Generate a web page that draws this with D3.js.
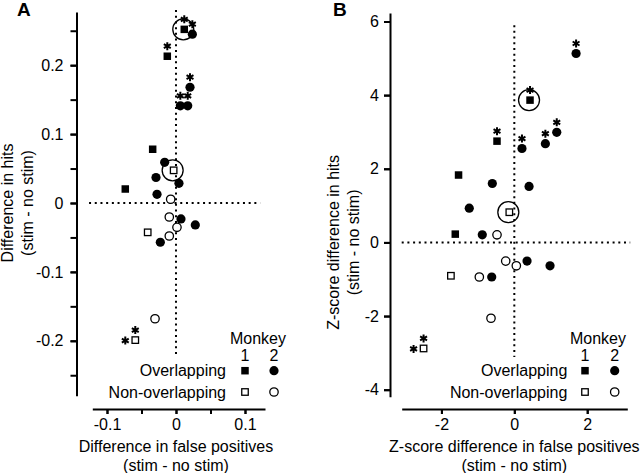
<!DOCTYPE html>
<html>
<head>
<meta charset="utf-8">
<script src="https://cdn.jsdelivr.net/npm/d3@7"></script>
<style>
    body { margin: 0; background: #fff; }
    svg text { font-family: "Liberation Sans", Arial, Helvetica, sans-serif; fill: #000; }
</style>
</head>
<body>
<div id="chart"></div>
<script>
// Stimulation effects - two scatter panels

// Panel A data: difference in false positives (x), difference in hits (y)
// stars = number of asterisks, ring = circled example site
const aOverlapM1 = [
    { x: 0.012, y: 0.252, stars: 1, ring: true },
    { x: -0.0126, y: 0.213, stars: 1 },
    { x: -0.0338, y: 0.078, stars: 0 },
    { x: -0.0735, y: 0.0203, stars: 0 }
];
const aOverlapM2 = [
    { x: 0.0237, y: 0.245, stars: 1 },
    { x: 0.0203, y: 0.168, stars: 1 },
    { x: 0.0063, y: 0.141, stars: 1 },
    { x: 0.017, y: 0.141, stars: 1 },
    { x: -0.0164, y: 0.059, stars: 0 },
    { x: -0.029, y: 0.037, stars: 0 },
    { x: 0.0043, y: 0.0286, stars: 0 },
    { x: -0.0275, y: 0.0126, stars: 0 },
    { x: 0.0072, y: -0.0232, stars: 0 },
    { x: 0.028, y: -0.0319, stars: 0 },
    { x: -0.0227, y: -0.057, stars: 0 }
];
const aNonOverlapM1 = [
    { x: -0.0034, y: 0.0474, stars: 0, ring: true },
    { x: -0.041, y: -0.0426, stars: 0 },
    { x: -0.059, y: -0.199, stars: 2 }
];
const aNonOverlapM2 = [
    { x: -0.0077, y: 0.0054, stars: 0 },
    { x: -0.0097, y: -0.0203, stars: 0 },
    { x: 0.0014, y: -0.0353, stars: 0 },
    { x: -0.0097, y: -0.0479, stars: 0 },
    { x: -0.0304, y: -0.168, stars: 0 }
];

// Panel B data: z-score difference in false positives (x), in hits (y)
const bOverlapM1 = [
    { x: 0.431, y: 3.864, stars: 1, ring: true },
    { x: -0.475, y: 2.75, stars: 1 },
    { x: -1.53, y: 1.83, stars: 0 },
    { x: -1.62, y: 0.225, stars: 0 }
];
const bOverlapM2 = [
    { x: 1.695, y: 5.13, stars: 1 },
    { x: 0.21, y: 2.55, stars: 1 },
    { x: 0.852, y: 2.68, stars: 1 },
    { x: 1.164, y: 2.99, stars: 1 },
    { x: -0.604, y: 1.60, stars: 0 },
    { x: 0.404, y: 1.52, stars: 0 },
    { x: -1.236, y: 0.93, stars: 0 },
    { x: -0.879, y: 0.206, stars: 0 },
    { x: 0.349, y: -0.508, stars: 0 },
    { x: 0.98, y: -0.635, stars: 0 },
    { x: -0.62, y: -0.94, stars: 0 }
];
const bNonOverlapM1 = [
    { x: -0.137, y: 0.82, stars: 0, ring: true },
    { x: -1.74, y: -0.906, stars: 0 },
    { x: -2.49, y: -2.88, stars: 2 }
];
const bNonOverlapM2 = [
    { x: -0.475, y: 0.206, stars: 0 },
    { x: -0.236, y: -0.508, stars: 0 },
    { x: 0.055, y: -0.635, stars: 0 },
    { x: -0.96, y: -0.94, stars: 0 },
    { x: -0.64, y: -2.06, stars: 0 }
];

// Ticks
const aXMajor = [-0.1, 0, 0.1];
const aXMinor = [-0.1, -0.05, 0, 0.05, 0.1];
const aYMajor = [-0.2, -0.1, 0, 0.1, 0.2];
const aYMinor = [-0.25, -0.2, -0.15, -0.1, -0.05, 0, 0.05, 0.1, 0.15, 0.2, 0.25];
const bXMajor = [-2, 0, 2];
const bYMajor = [-4, -2, 0, 2, 4, 6];

// Text
const legendTitle = 'Monkey';
const monkeyIds = ['1', '2'];
const groupNames = ['Overlapping', 'Non-overlapping'];

// Layout
const config = {
    width: 640,
    height: 473,
    fontSize: 16,
    dotted: '2,3.7'
};

const panels = [
    {
        letter: 'A', letterX: 17, letterY: 16,
        xDomain: [-0.1213, 0.129], xRange: [92.3, 265],
        yDomain: [-0.2797, 0.2772], yRange: [395.7, 12],
        xAxisY: 409, yAxisX: 76.5, yPad: 7,
        xMajor: aXMajor, xMinor: aXMinor, yMajor: aYMajor, yMinor: aYMinor,
        vDots: [0.28, -0.2235], hDots: [-0.126, 0.122],
        xTitle: ['Difference in false positives', '(stim - no stim)'],
        yTitle: ['Difference in hits', '(stim - no stim)'], yTitleX: [7, 27],
        series: [
            { data: aNonOverlapM1, shape: 'square', filled: false },
            { data: aNonOverlapM2, shape: 'circle', filled: false },
            { data: aOverlapM1, shape: 'square', filled: true },
            { data: aOverlapM2, shape: 'circle', filled: true }
        ],
        legend: { right: 286, col1: 245, col2: 274, textRight: 226, yTitle: 338, yIds: 355, yRows: [370.7, 392] }
    },
    {
        letter: 'B', letterX: 333, letterY: 16,
        xDomain: [-3.09, 3.10], xRange: [401.7, 627.3],
        yDomain: [-4.19, 6.23], yRange: [396.7, 13],
        xAxisY: 409, yAxisX: 390, yPad: 5,
        xMajor: bXMajor, xMinor: bXMajor, yMajor: bYMajor, yMinor: bYMajor,
        vDots: [5.9, -3.11], hDots: [-3.09, 3.18],
        xTitle: ['Z-score difference in false positives', '(stim - no stim)'],
        yTitle: ['Z-score difference in hits', '(stim - no stim)'], yTitleX: [333, 353],
        series: [
            { data: bNonOverlapM1, shape: 'square', filled: false },
            { data: bNonOverlapM2, shape: 'circle', filled: false },
            { data: bOverlapM1, shape: 'square', filled: true },
            { data: bOverlapM2, shape: 'circle', filled: true }
        ],
        legend: { right: 626, col1: 585, col2: 614.7, textRight: 567.3, yTitle: 338, yIds: 355, yRows: [370.7, 392] }
    }
];

const svg = d3.select('#chart')
    .append('svg')
    .attr('width', config.width)
    .attr('height', config.height)
    .style('background', '#fff');

// number format with plain hyphen minus
function fmt(v) {
    return v === 0 ? '0' : String(+v.toFixed(2));
}

// 6-armed asterisk path centred on 0,0
function starPath(r) {
    let d = '';
    [90, 30, 150].forEach(a => {
        const rad = a * Math.PI / 180;
        const dx = r * Math.cos(rad), dy = r * Math.sin(rad);
        d += `M${-dx},${-dy}L${dx},${dy}`;
    });
    return d;
}

function drawMarker(g, cx, cy, shape, filled) {
    if (shape === 'circle') {
        g.append('circle')
            .attr('cx', cx).attr('cy', cy)
            .attr('r', filled ? 4.6 : 4.2)
            .attr('fill', filled ? '#000' : '#fff')
            .attr('stroke', '#000')
            .attr('stroke-width', filled ? 0 : 1.3);
    } else {
        const s = filled ? 7.5 : 6.5;
        g.append('rect')
            .attr('x', cx - s / 2).attr('y', cy - s / 2)
            .attr('width', s).attr('height', s)
            .attr('fill', filled ? '#000' : '#fff')
            .attr('stroke', '#000')
            .attr('stroke-width', filled ? 0 : 1.3);
    }
}

function styleAxis(sel) {
    sel.attr('font-family', null).attr('font-size', config.fontSize);
    sel.select('.domain').attr('stroke-width', 2);
    sel.selectAll('.tick line').attr('stroke-width', 2);
}

function drawPanel(p) {
    const g = svg.append('g');
    const x = d3.scaleLinear().domain(p.xDomain).range(p.xRange);
    const y = d3.scaleLinear().domain(p.yDomain).range(p.yRange);

    // dotted zero lines
    g.append('line')
        .attr('x1', x(0)).attr('x2', x(0))
        .attr('y1', y(p.vDots[0])).attr('y2', y(p.vDots[1]))
        .attr('stroke', '#000').attr('stroke-width', 2)
        .attr('stroke-dasharray', config.dotted);
    g.append('line')
        .attr('x1', x(p.hDots[0])).attr('x2', x(p.hDots[1]))
        .attr('y1', y(0)).attr('y2', y(0))
        .attr('stroke', '#000').attr('stroke-width', 2)
        .attr('stroke-dasharray', config.dotted);

    // x axis
    g.append('g')
        .attr('transform', `translate(0,${p.xAxisY})`)
        .call(d3.axisBottom(x).tickValues(p.xMinor).tickFormat('').tickSizeInner(5).tickSizeOuter(0))
        .call(styleAxis);
    g.append('g')
        .attr('transform', `translate(0,${p.xAxisY})`)
        .call(d3.axisBottom(x).tickValues(p.xMajor).tickFormat(fmt).tickSizeInner(5).tickSizeOuter(0).tickPadding(5))
        .call(styleAxis)
        .call(a => a.select('.domain').remove());

    // y axis
    g.append('g')
        .attr('transform', `translate(${p.yAxisX},0)`)
        .call(d3.axisLeft(y).tickValues(p.yMinor).tickFormat('').tickSizeInner(6).tickSizeOuter(0))
        .call(styleAxis);
    g.append('g')
        .attr('transform', `translate(${p.yAxisX},0)`)
        .call(d3.axisLeft(y).tickValues(p.yMajor).tickFormat(fmt).tickSizeInner(6).tickSizeOuter(0).tickPadding(p.yPad))
        .call(styleAxis)
        .call(a => a.select('.domain').remove());

    // axis titles
    p.xTitle.forEach((t, i) => {
        g.append('text')
            .attr('x', x(0))
            .attr('y', 451.5 + i * 19)
            .attr('text-anchor', 'middle')
            .attr('font-size', config.fontSize)
            .text(t);
    });
    p.yTitle.forEach((t, i) => {
        g.append('text')
            .attr('transform', `translate(${p.yTitleX[i]},${y(0)}) rotate(-90)`)
            .attr('text-anchor', 'middle')
            .attr('dominant-baseline', 'central')
            .attr('font-size', config.fontSize)
            .text(t);
    });

    // panel letter
    g.append('text')
        .attr('x', p.letterX).attr('y', p.letterY)
        .attr('font-size', 19)
        .attr('font-weight', 'bold')
        .text(p.letter);

    // points
    const pts = g.append('g').attr('class', 'points');
    p.series.forEach(s => {
        s.data.forEach(d => {
            const cx = x(d.x), cy = y(d.y);
            drawMarker(pts, cx, cy, s.shape, s.filled);
            if (d.ring) {
                pts.append('circle')
                    .attr('cx', cx - 1).attr('cy', cy)
                    .attr('r', 10.5)
                    .attr('fill', 'none')
                    .attr('stroke', '#000')
                    .attr('stroke-width', 1.3);
            }
            const starPos = [];
            if (d.stars >= 1) starPos.push([cx, cy - 10]);
            if (d.stars >= 2) starPos.push([cx - 10, cy + 0.5]);
            starPos.forEach(([sx, sy]) => {
                pts.append('path')
                    .attr('d', starPath(4))
                    .attr('transform', `translate(${sx},${sy})`)
                    .attr('stroke', '#000')
                    .attr('stroke-width', 2)
                    .attr('fill', 'none');
            });
        });
    });

    // legend
    const L = p.legend;
    const lg = g.append('g').attr('class', 'legend').attr('font-size', config.fontSize);
    lg.append('text')
        .attr('x', L.right).attr('y', L.yTitle)
        .attr('text-anchor', 'end').attr('dominant-baseline', 'central')
        .text(legendTitle);
    [L.col1, L.col2].forEach((cx, i) => {
        lg.append('text')
            .attr('x', cx).attr('y', L.yIds)
            .attr('text-anchor', 'middle').attr('dominant-baseline', 'central')
            .text(monkeyIds[i]);
    });
    groupNames.forEach((name, i) => {
        lg.append('text')
            .attr('x', L.textRight).attr('y', L.yRows[i])
            .attr('text-anchor', 'end').attr('dominant-baseline', 'central')
            .text(name);
        drawMarker(lg, L.col1, L.yRows[i], 'square', i === 0);
        drawMarker(lg, L.col2, L.yRows[i], 'circle', i === 0);
    });
}

panels.forEach(drawPanel);
</script>
</body>
</html>
